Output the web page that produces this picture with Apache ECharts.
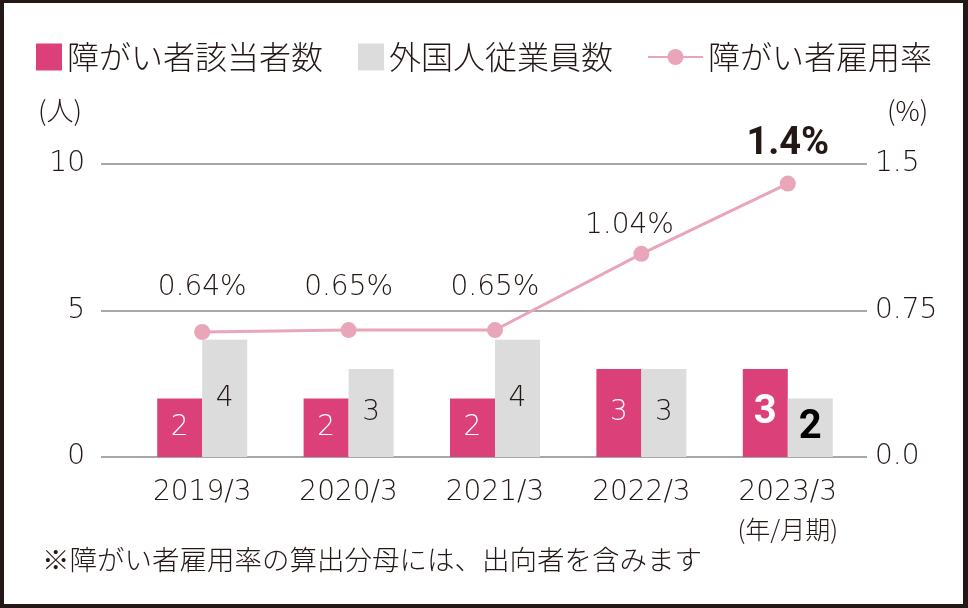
<!DOCTYPE html>
<html>
<head>
<meta charset="utf-8">
<script src="https://cdn.jsdelivr.net/npm/echarts@6/dist/echarts.min.js"></script>
<style>
html,body{margin:0;padding:0;background:#fff;}
#chart{width:968px;height:608px;}
</style>
</head>
<body>
<div id="chart"></div>
<script>
const categories = ['2019/3', '2020/3', '2021/3', '2022/3', '2023/3'];
const periodNote = '(年/月期)';
const disabledCount = [2, 2, 2, 3, 3];
const foreignCount = [4, 3, 4, 3, 2];
const employmentRate = [0.64, 0.65, 0.65, 1.04, 1.4];
const leftTickLabels = ['0', '5', '10'];
const rightTickLabels = ['0.0', '0.75', '1.5'];
const seriesNames = ['障がい者該当者数', '外国人従業員数', '障がい者雇用率'];
const footnote = '※障がい者雇用率の算出分母には、出向者を含みます';

const JP = '"Noto Sans CJK JP", "Noto Sans", sans-serif';
const JPW = 300;
const NUM = '"DejaVu Sans", sans-serif';
const BOLDNUM = 'Roboto, "DejaVu Sans", sans-serif';
const PINK = '#dc4078', GRAY = '#dcdcdc', LINE = '#e9a6b9', TEXT = '#231815';
const last = categories.length - 1;

const chart = echarts.init(document.getElementById('chart'), null, {renderer: 'canvas'});

const lineLabelTweaks = [
  {distance: 22}, {distance: 20}, {distance: 20}, {distance: 6, offset: [-12, 0]},
  {distance: 12, fontFamily: BOLDNUM, fontWeight: 'bold', fontSize: 38}
];

const legendText = {fontFamily: JP, fontSize: 32, fontWeight: JPW, color: TEXT};

chart.setOption({
  animation: false,
  backgroundColor: '#fff',
  legend: [
    {data: [seriesNames[0]], left: 36, top: 41, padding: 0, icon: 'rect', itemWidth: 26, itemHeight: 27,
     textStyle: legendText},
    {data: [seriesNames[1]], left: 358, top: 41, padding: 0, icon: 'rect', itemWidth: 26, itemHeight: 27,
     textStyle: legendText},
    {data: [seriesNames[2]], left: 647, top: 41, padding: 0, itemWidth: 55, itemHeight: 20,
     textStyle: legendText}
  ],
  grid: [
    {left: 101, right: 101, top: 164, bottom: 151},
    {left: 129, right: 107, top: 164, bottom: 151}
  ],
  xAxis: [
    {gridIndex: 0, type: 'category', data: categories, show: false},
    {gridIndex: 1, type: 'category', data: categories,
     axisLine: {show: false}, axisTick: {show: false},
     axisLabel: {
       interval: 0, hideOverlap: false,
       margin: 18, lineHeight: 36, color: TEXT, fontFamily: NUM, fontSize: 28, fontWeight: 200,
       formatter: (v, i) => i === last ? '{a|' + v + '}\n{b|' + periodNote + '}' : v,
       rich: {
         a: {fontFamily: NUM, fontSize: 28, fontWeight: 200, color: TEXT, lineHeight: 36},
         b: {fontFamily: JP, fontSize: 25, fontWeight: JPW, color: TEXT, lineHeight: 36}
       }
     }}
  ],
  yAxis: [
    {gridIndex: 0, type: 'value', min: 0, max: 10, interval: 5, position: 'left',
     name: '(人)', nameLocation: 'end', nameGap: 40,
     nameTextStyle: {fontFamily: JP, fontSize: 27, fontWeight: JPW, color: TEXT, align: 'right', padding: [0, 19, 0, 0]},
     axisLine: {show: false}, axisTick: {show: false},
     splitLine: {show: true, lineStyle: {color: '#8a8a8a', width: 1.5}},
     axisLabel: {margin: 16, color: TEXT, fontFamily: NUM, fontSize: 28, fontWeight: 200,
       formatter: (v) => leftTickLabels[Math.round(v / 5)]}},
    {gridIndex: 0, type: 'value', min: 0, max: 1.5, interval: 0.75, position: 'right',
     name: '(%)', nameLocation: 'end', nameGap: 40,
     nameTextStyle: {fontFamily: JP, fontSize: 27, fontWeight: JPW, color: TEXT, align: 'left', padding: [0, 0, 0, 20]},
     axisLine: {show: false}, axisTick: {show: false}, splitLine: {show: false},
     axisLabel: {margin: 8, color: TEXT, fontFamily: NUM, fontSize: 28, fontWeight: 200,
       formatter: (v) => rightTickLabels[Math.round(v / 0.75)]}},
    {gridIndex: 1, type: 'value', min: 0, max: 10, interval: 5, show: false},
    {gridIndex: 1, type: 'value', min: 0, max: 1.5, interval: 0.75, show: false}
  ],
  series: [
    {
      name: seriesNames[0], type: 'bar', xAxisIndex: 1, yAxisIndex: 2,
      barWidth: 45, barGap: '0%',
      itemStyle: {color: PINK},
      label: {show: true, position: 'inside', color: '#fff', fontFamily: NUM, fontSize: 28, fontWeight: 200},
      data: disabledCount.map((v, i) => i === last
        ? {value: v, label: {fontFamily: BOLDNUM, fontWeight: 'bold', fontSize: 40}} : v)
    },
    {
      name: seriesNames[1], type: 'bar', xAxisIndex: 1, yAxisIndex: 2,
      barWidth: 45, barGap: '0%',
      itemStyle: {color: GRAY},
      label: {show: true, position: 'inside', color: TEXT, fontFamily: NUM, fontSize: 28, fontWeight: 200},
      data: foreignCount.map((v, i) => i === last
        ? {value: v, label: {fontFamily: BOLDNUM, fontWeight: 'bold', fontSize: 40, color: '#000'}} : v)
    },
    {
      name: seriesNames[2], type: 'line', xAxisIndex: 1, yAxisIndex: 3,
      symbol: 'circle', symbolSize: 16,
      lineStyle: {color: LINE, width: 3},
      itemStyle: {color: LINE},
      label: {show: true, position: 'top', color: TEXT, fontFamily: NUM, fontSize: 28, fontWeight: 200,
        formatter: (p) => p.value + '%'},
      data: employmentRate.map((v, i) => ({value: v, label: lineLabelTweaks[i]})),
      z: 5
    }
  ],
  graphic: [
    {type: 'text', left: 42, top: 546,
     style: {text: footnote, fontFamily: JP, fontSize: 27.5, fontWeight: JPW, fill: TEXT}},
    {type: 'rect', shape: {x: 0, y: 0, width: 968, height: 3}, style: {fill: TEXT}},
    {type: 'rect', shape: {x: 0, y: 0, width: 4, height: 608}, style: {fill: TEXT}},
    {type: 'rect', shape: {x: 963, y: 0, width: 5, height: 608}, style: {fill: TEXT}},
    {type: 'rect', shape: {x: 0, y: 604, width: 968, height: 4}, style: {fill: TEXT}}
  ]
});
</script>
</body>
</html>
